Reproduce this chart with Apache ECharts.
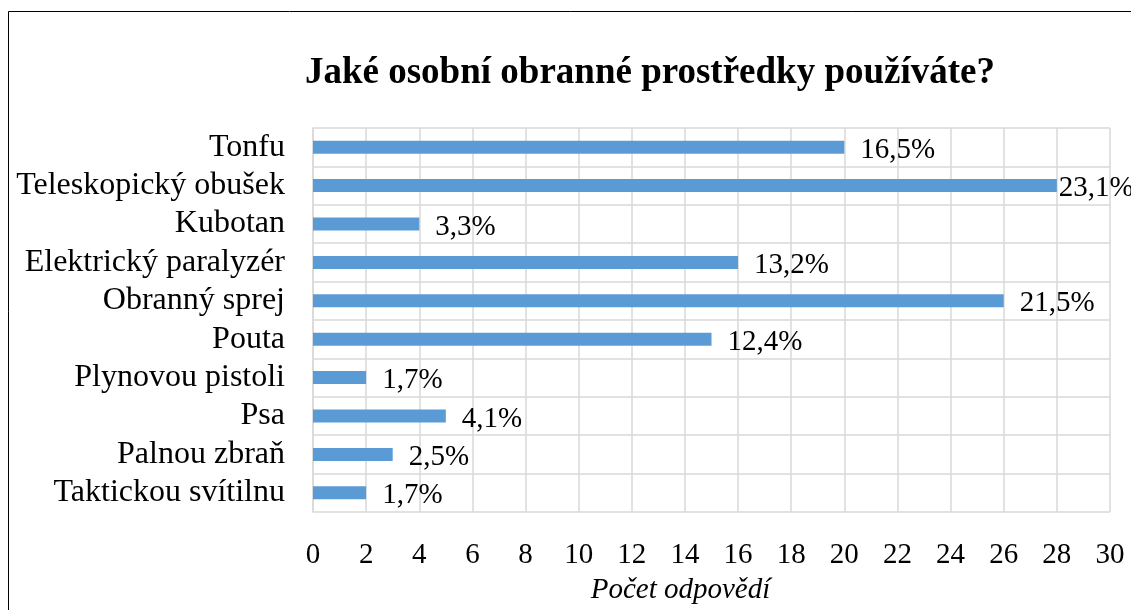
<!DOCTYPE html>
<html>
<head>
<meta charset="utf-8">
<script src="https://cdn.jsdelivr.net/npm/echarts@6/dist/echarts.min.js"></script>
<style>
  html, body { margin: 0; padding: 0; background: #fff; }
  #chart { width: 1131px; height: 610px; }
</style>
</head>
<body>
<div id="chart"></div>
<script>
const categories = [
  'Tonfu',
  'Teleskopický obušek',
  'Kubotan',
  'Elektrický paralyzér',
  'Obranný sprej',
  'Pouta',
  'Plynovou pistoli',
  'Psa',
  'Palnou zbraň',
  'Taktickou svítilnu'
]
const counts = [20, 28, 4, 16, 26, 15, 2, 5, 3, 2]
const percentLabels = ['16,5%', '23,1%', '3,3%', '13,2%', '21,5%', '12,4%', '1,7%', '4,1%', '2,5%', '1,7%']
const xTicks = [0, 30, 2]

const font = 'Liberation Serif'
const gridColor = '#d9d9d9'
// the longest bar's label is pushed against the bar in the original
const tightLabels = [1]

const chart = echarts.init(document.getElementById('chart'))

chart.setOption({
  animation: false,
  title: {
    text: 'Jaké osobní obranné prostředky používáte?',
    left: 645,
    textAlign: 'center',
    top: 50,
    textStyle: { fontFamily: font, fontSize: 37, fontWeight: 'bold', color: '#000' }
  },
  grid: { left: 313, right: 21, top: 128, bottom: 96 },
  xAxis: {
    type: 'value',
    min: xTicks[0],
    max: xTicks[1],
    interval: xTicks[2],
    name: 'Počet odpovědí',
    nameLocation: 'middle',
    nameGap: 64,
    nameTextStyle: { fontFamily: font, fontSize: 29, fontStyle: 'italic', color: '#000', padding: [0, 62, 0, 0] },
    axisLine: { show: false },
    axisTick: { show: false },
    axisLabel: { fontFamily: font, fontSize: 29, color: '#000', margin: 29 },
    splitLine: { show: true, lineStyle: { color: gridColor, width: 1.5 } }
  },
  yAxis: {
    type: 'category',
    data: categories,
    inverse: true,
    axisLine: { show: true, lineStyle: { color: gridColor, width: 1.5 } },
    axisTick: { show: false },
    axisLabel: { interval: 0, fontFamily: font, fontSize: 32, color: '#000', margin: 28 },
    splitLine: { show: true, interval: 0, lineStyle: { color: gridColor, width: 1.5 } }
  },
  series: [{
    type: 'bar',
    data: counts.map((v, i) => tightLabels.includes(i) ? { value: v, label: { distance: 2 } } : v),
    barWidth: 13,
    itemStyle: { color: '#5b9bd5' },
    label: {
      show: true,
      position: 'right',
      distance: 16,
      offset: [0, 3],
      fontFamily: font,
      fontSize: 29,
      color: '#000',
      formatter: (p) => percentLabels[p.dataIndex]
    }
  }],
  graphic: [{
    type: 'rect',
    shape: { x: 8.5, y: 11.5, width: 1300, height: 800 },
    style: { fill: 'none', stroke: '#000', lineWidth: 1 },
    silent: true
  }]
})
</script>
</body>
</html>
